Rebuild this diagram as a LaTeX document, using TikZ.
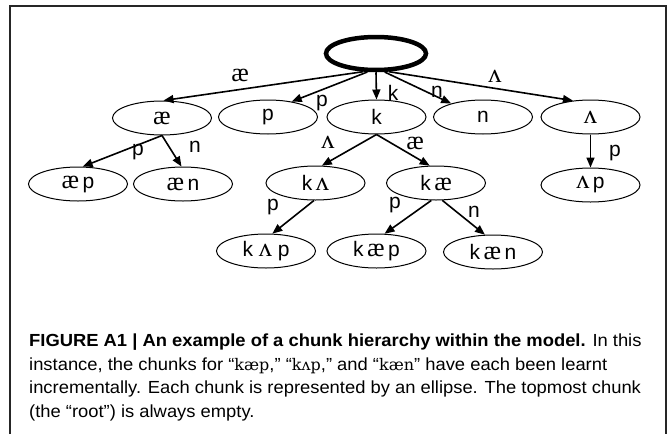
\documentclass[tikz,border=0pt]{standalone}
\usepackage{fontspec}
\setmainfont{Liberation Sans}
\newfontfamily\capfont[FakeStretch=1.05]{Liberation Sans}
\newfontfamily\gipa[Scale=1.25]{Liberation Serif}
\newfontfamily\capipa{DejaVu Serif}
\usetikzlibrary{shapes.geometric,arrows.meta}
\newcommand{\iae}{{\gipa æ}}
\newcommand{\ilam}{{\gipa ʌ}}
\begin{document}
\begin{tikzpicture}[x=1pt,y=-1pt,
  chunk/.style={ellipse,draw,line width=1pt,minimum width=99pt,minimum height=34pt,inner sep=0pt,font=\fontsize{21}{24}\selectfont},
  rootchunk/.style={ellipse,draw,line width=4.5pt,minimum width=100pt,minimum height=33pt,inner sep=0pt},
  edge/.style={line width=1.6pt,-{Triangle[length=10pt,width=8pt]}},
  lbl/.style={font=\fontsize{21}{24}\selectfont,inner sep=0pt},
  capline/.style={anchor=base west,inner sep=0pt,font=\capfont\fontsize{17.5}{20}\selectfont}]
\useasboundingbox (0,0) rectangle (668,434);
\fill[white] (0,0) rectangle (668,434);
\draw[line width=1.2pt,black!85] (10,434) -- (10,6) -- (666,6) -- (666,434);

% nodes
\node[rootchunk] (root) at (376,53.5) {};
\node[chunk] (ae) at (162,118) {\iae};
\node[chunk] (p) at (268,117) {p};
\node[chunk] (k) at (376.5,117) {k};
\node[chunk] (n) at (483,117) {n};
\node[chunk] (lam) at (590.5,117) {\ilam};
\node[chunk] (aep) at (78,184) {\iae\,p};
\node[chunk] (aen) at (183,184) {\iae\,n};
\node[chunk] (klam) at (315.5,183) {k\,\ilam};
\node[chunk] (kae) at (436,183) {k\,\iae};
\node[chunk] (lamp) at (590.5,185) {\ilam\,p};
\node[chunk] (klamp) at (266,251) {k \ilam\ p};
\node[chunk] (kaep) at (376.5,251) {k\,\iae\,p};
\node[chunk] (kaen) at (493,252) {k\,\iae\,n};

% edges
\draw[edge] (root.235) -- (ae.85);
\draw[edge] (root.245) -- (p.33);
\draw[edge] (root.south) -- (k.north);
\draw[edge] (root.295) -- (n.157);
\draw[edge] (root.305) -- (lam.137);
\draw[edge] (ae.south) -- (aep.75);
\draw[edge] (ae.south) -- (aen.95);
\draw[edge] (k.south) -- (klam.70);
\draw[edge] (k.south) -- (kae.110);
\draw[edge] (lam.south) -- (lamp.north);
\draw[edge] (klam.265) -- (klamp.70);
\draw[edge] (kae.255) -- (kaep.65);
\draw[edge] (kae.290) -- (kaen.115);

% edge labels
\node[lbl] (l1) at (240,75) {\iae};
\node[lbl] (l2) at (322,103) {p};
\node[lbl] (l3) at (393,93) {k};
\node[lbl] (l4) at (437,92) {n};
\node[lbl] (l5) at (495,76) {\ilam};
\node[lbl] (l6) at (138,152) {p};
\node[lbl] (l7) at (195,147) {n};
\node[lbl] (l8) at (328,142) {\ilam};
\node[lbl] (l9) at (415,143) {\iae};
\node[lbl] (l10) at (615,153) {p};
\node[lbl] (l11) at (273,207) {p};
\node[lbl] (l12) at (395,205) {p};
\node[lbl] (l13) at (474,212) {n};

% caption
\node[capline] (c1) at (29,346.5) {\bfseries FIGURE A1 | An example of a chunk hierarchy within the model.\mdseries{} In this};
\node[capline] (c2) at (29,370) {instance, the chunks for “{\capipa\fontsize{16}{16}\selectfont kæp},” “{\capipa\fontsize{16}{16}\selectfont kʌp},” and “{\capipa\fontsize{16}{16}\selectfont kæn}” have each been learnt};
\node[capline] (c3) at (29,393.5) {incrementally. Each chunk is represented by an ellipse. The topmost chunk};
\node[capline] (c4) at (29,417) {(the “root”) is always empty.};
\end{tikzpicture}
\end{document}
